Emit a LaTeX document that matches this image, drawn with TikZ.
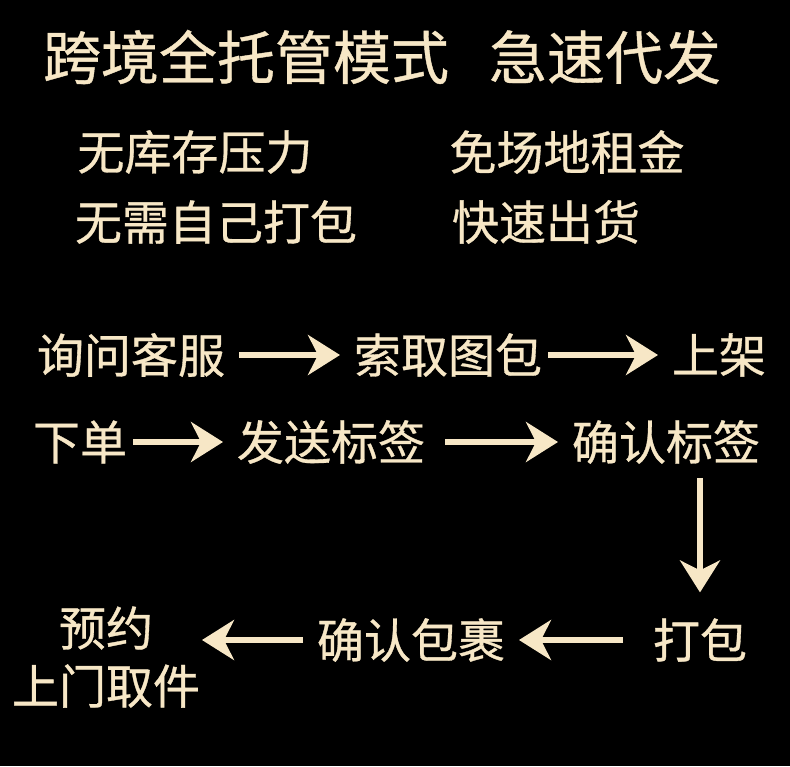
\documentclass[tikz,border=0pt]{standalone}
\usepackage{fontspec}
\setmainfont{Noto Sans CJK SC}[FakeBold=0.7]
\usetikzlibrary{arrows.meta}
\definecolor{cream}{HTML}{F7E7C6}
\tikzstyle{headline} = [
    text=cream,
    inner sep=0pt,
    font=\fontsize{58}{62}\selectfont
]
\tikzstyle{perk} = [
    text=cream,
    inner sep=0pt,
    font=\fontsize{47}{50}\selectfont
]
\tikzstyle{stage} = [
    text=cream,
    inner sep=0pt,
    outer sep=0pt,
    align=center,
    font=\fontsize{47}{58}\selectfont
]
\tikzstyle{arrow} = [
    draw=cream,
    line width=6pt,
    -{Stealth[length=32pt,width=40pt,inset=10pt]},
    shorten <=14pt,
    shorten >=14pt
]

\begin{document}
\begin{tikzpicture}[x=1pt, y=-1pt]

\fill[black] (0,0) rectangle (790,766);
\useasboundingbox (0,0) rectangle (790,766);

\node (title) [headline] at (382,57) {跨境全托管模式\hspace{40pt}急速代发};

\node (nostock) [perk] at (195,152) {无库存压力};
\node (norent) [perk] at (567,152) {免场地租金};
\node (nopack) [perk] at (216,222) {无需自己打包};
\node (fastship) [perk] at (546,222) {快速出货};

\node (ask) [stage] at (131,355) {询问客服};
\node (getimg) [stage] at (448,355) {索取图包};
\node (listing) [stage] at (719,355) {上架};

\node (order) [stage] at (80,442) {下单};
\node (sendlbl) [stage] at (331,442) {发送标签};
\node (checklbl) [stage] at (666,442) {确认标签};

\node (pack) [stage] at (700,640) {打包};
\node (checkpkg) [stage] at (411,640) {确认包裹};
\node (pickup) [stage] at (106,657) {预约\\上门取件};

\draw [arrow] (ask) -- (getimg);
\draw [arrow, shorten <=6pt] (getimg) -- (listing);
\draw [arrow, shorten <=6pt] (order) -- (sendlbl);
\draw [arrow, shorten <=20pt] (sendlbl) -- (checklbl);
\draw [arrow, shorten >=26pt] (checklbl.south -| pack.north) -- (pack.north);
\draw [arrow, shorten <=30pt] (pack) -- (checkpkg);
\draw [arrow, shorten <=14pt, shorten >=2pt] (checkpkg) -- (pickup.east |- checkpkg);

\end{tikzpicture}
\end{document}
